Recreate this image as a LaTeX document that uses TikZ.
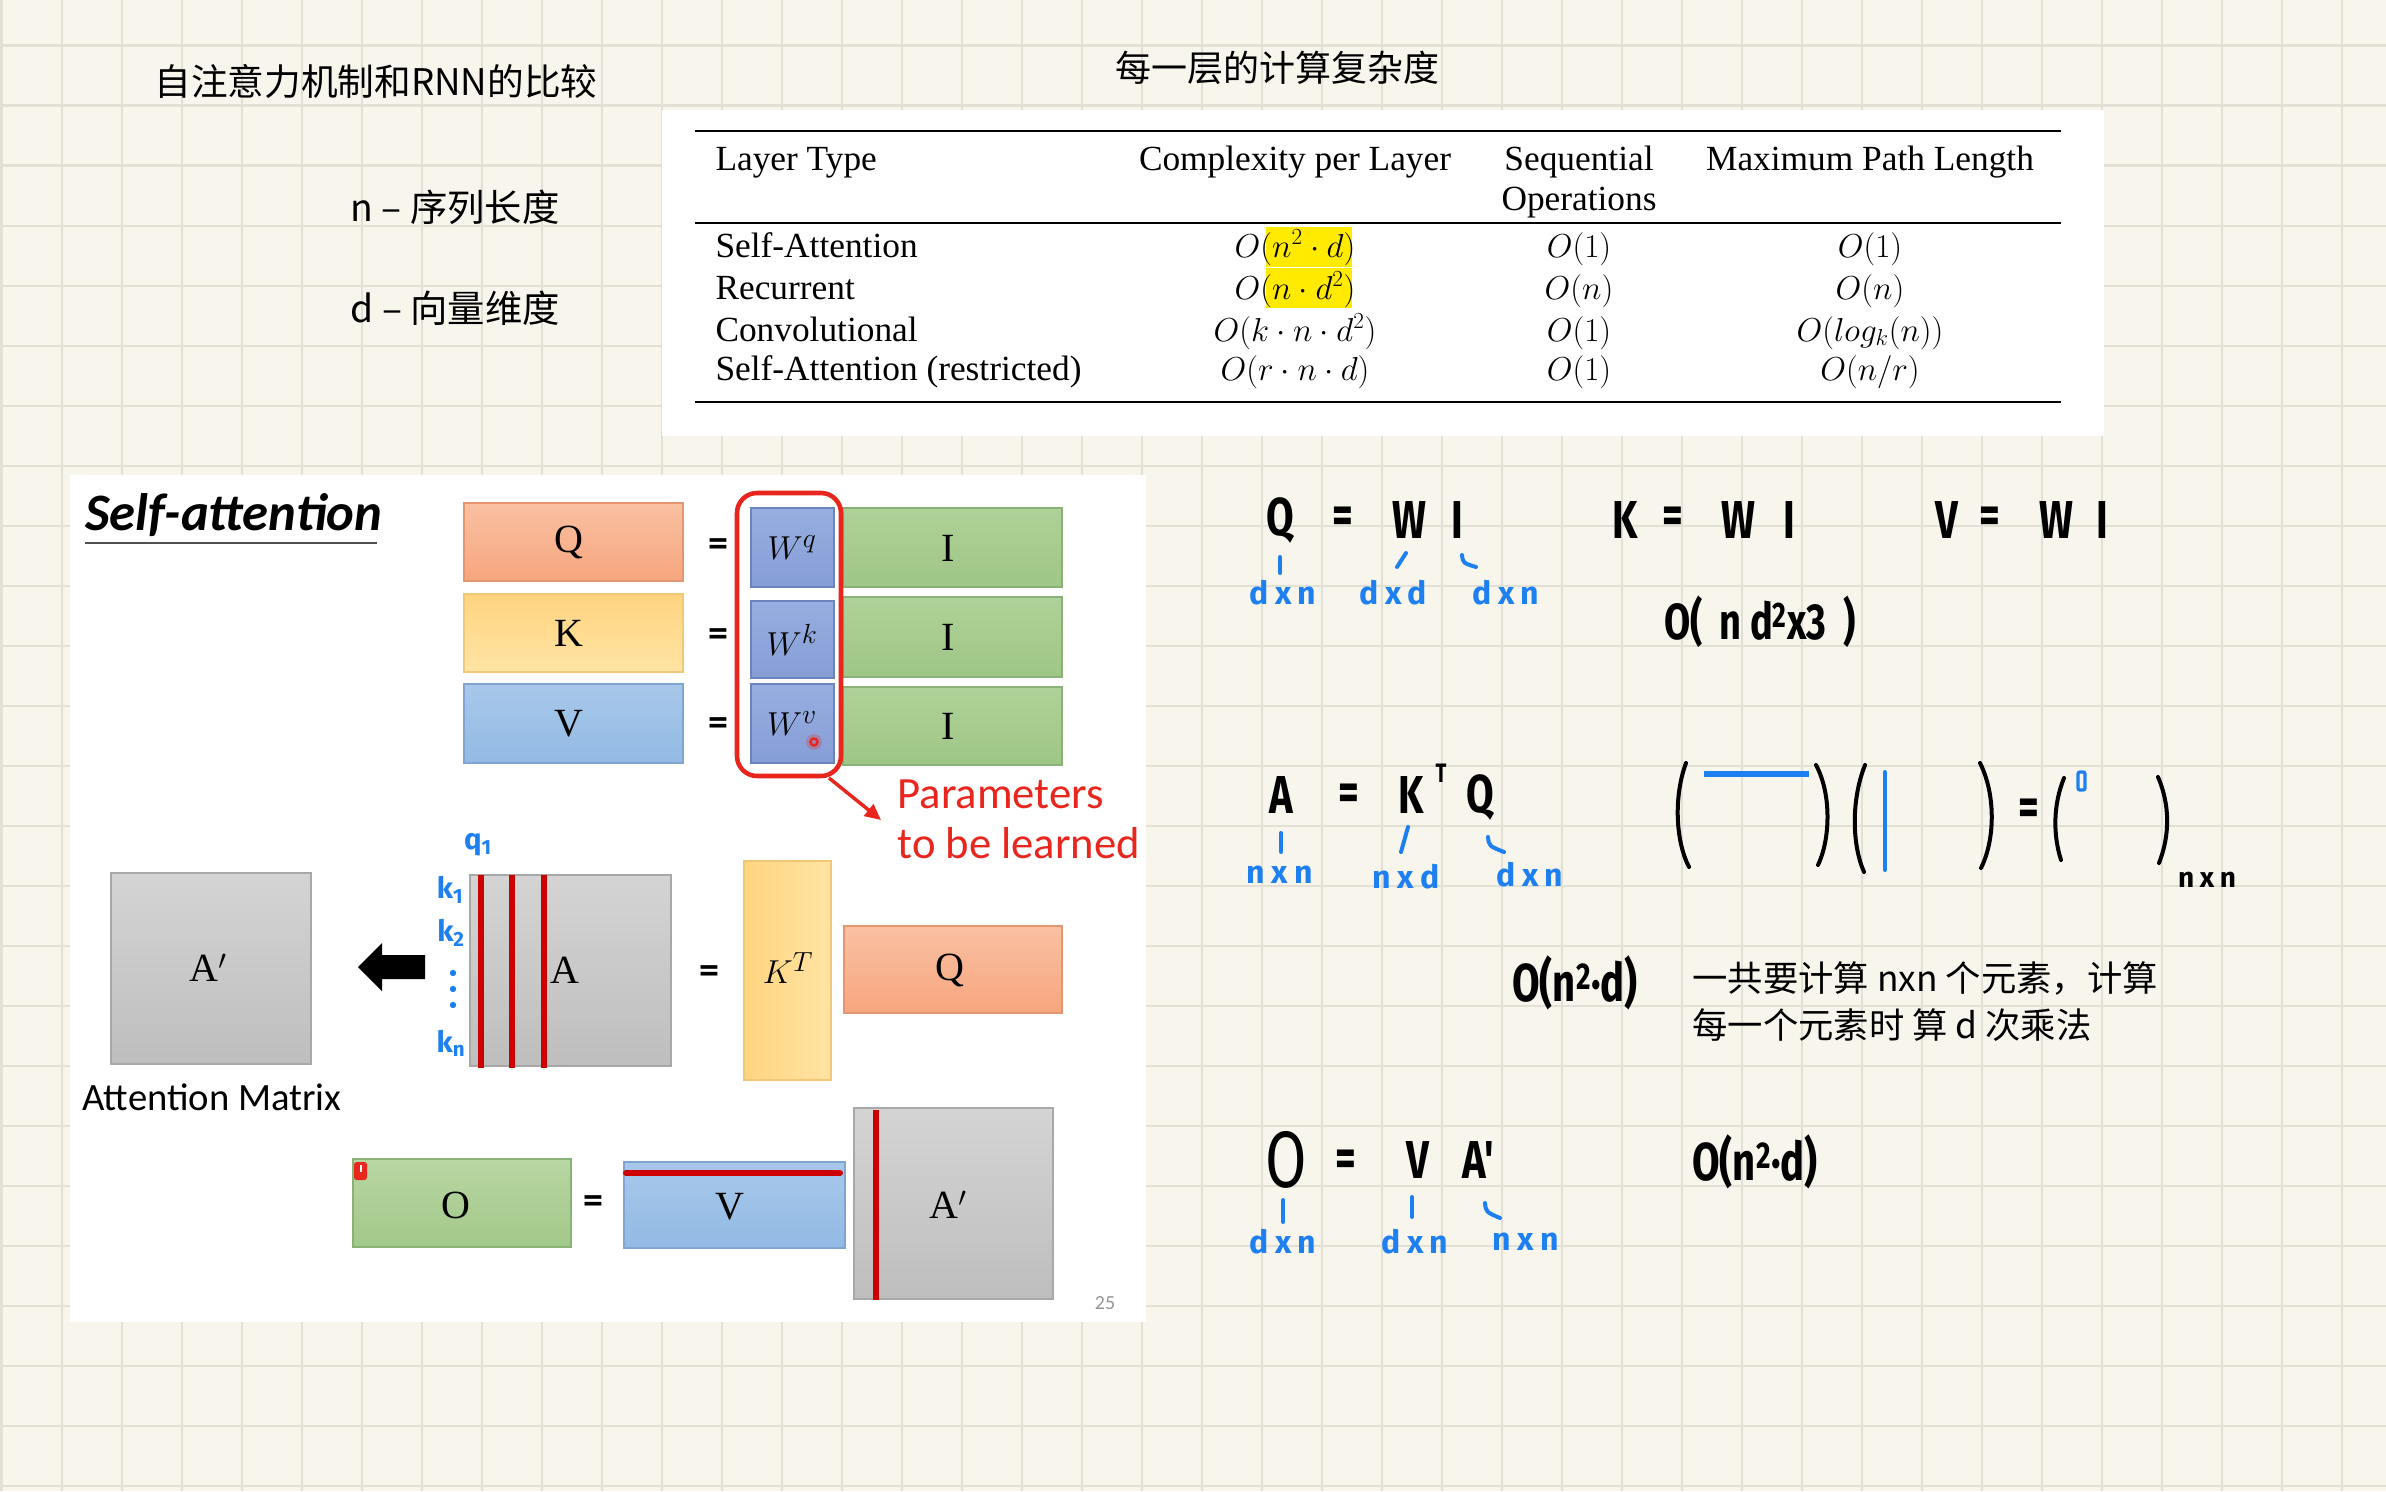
\documentclass[tikz,border=0pt]{standalone}
\usepackage{fontspec}
\setmainfont{Liberation Serif}
\newfontfamily\cjk{Noto Sans CJK SC}
\newfontfamily\slidesf{Carlito}
\newfontfamily\hand[FakeStretch=0.75]{Fira Sans}
\newfontfamily\handsm[LetterSpace=20]{Fira Sans}
\usetikzlibrary{arrows.meta}

\definecolor{paper}{RGB}{248,246,236}
\definecolor{gridcol}{RGB}{226,223,212}
\definecolor{hlyellow}{RGB}{255,234,0}
\definecolor{penblue}{RGB}{30,128,240}
\definecolor{slidered}{RGB}{204,0,0}
\definecolor{markred}{RGB}{232,38,30}
\definecolor{qtop}{RGB}{249,192,162}\definecolor{qbot}{RGB}{247,166,126}\definecolor{qline}{RGB}{228,150,112}
\definecolor{ktop}{RGB}{255,212,128}\definecolor{kbot}{RGB}{255,228,164}\definecolor{kline}{RGB}{240,200,120}
\definecolor{vtop}{RGB}{168,200,234}\definecolor{vbot}{RGB}{146,186,228}\definecolor{vline}{RGB}{128,165,210}
\definecolor{wtop}{RGB}{150,174,224}\definecolor{wbot}{RGB}{134,158,214}\definecolor{wline}{RGB}{108,132,188}
\definecolor{itop}{RGB}{174,210,152}\definecolor{ibot}{RGB}{158,198,134}\definecolor{iline}{RGB}{138,178,118}
\definecolor{gtop}{RGB}{212,212,212}\definecolor{gbot}{RGB}{190,190,190}\definecolor{gline}{RGB}{168,168,168}
\definecolor{otop}{RGB}{184,214,162}\definecolor{obot}{RGB}{162,200,138}

\tikzset{every picture/.style={line width=0.75pt},
  gridline/.style={draw=gridcol,line width=1.8pt},
  cjktxt/.style={inner sep=0pt,font=\cjk\fontsize{27}{32}\selectfont},
  tabtxt/.style={inner sep=0pt,font=\fontsize{26.5}{30}\selectfont},
  boxtxt/.style={inner sep=0pt,font=\fontsize{30}{34}\selectfont},
  slidetxt/.style={inner sep=0pt,font=\slidesf\fontsize{29}{32}\selectfont},
  eqsign/.style={inner sep=0pt,font=\slidesf\bfseries\fontsize{30}{34}\selectfont},
  qbox/.style={top color=qtop,bottom color=qbot,draw=qline,line width=1pt},
  kbox/.style={top color=ktop,bottom color=kbot,draw=kline,line width=1pt},
  vbox/.style={top color=vtop,bottom color=vbot,draw=vline,line width=1pt},
  wbox/.style={top color=wtop,bottom color=wbot,draw=wline,line width=1pt},
  ibox/.style={top color=itop,bottom color=ibot,draw=iline,line width=1pt},
  gbox/.style={top color=gtop,bottom color=gbot,draw=gline,line width=1pt},
  obox/.style={top color=otop,bottom color=obot,draw=iline,line width=1pt},
  redline/.style={draw=slidered,line width=4.5pt},
  hw/.style={inner sep=0pt,font=\hand\bfseries\fontsize{40}{40}\selectfont},
  hwlab/.style={inner sep=0pt,text=penblue,font=\handsm\bfseries\fontsize{24}{24}\selectfont},
  penstroke/.style={draw=penblue,line width=3pt,line cap=round},
  paren/.style={draw=black,line width=3pt,line cap=round}}

\begin{document}
\begin{tikzpicture}[x=0.75pt,y=0.75pt,yscale=-1,xscale=1]
\useasboundingbox (0,0) rectangle (2386,1491);

%Shape: Paper
\fill[paper] (0,0) rectangle (2386,1491);
%Shape: Grid
\foreach \k in {0,...,39} \draw[gridline] ({1.7+60*\k},0) -- ({1.7+60*\k},1491);
\foreach \k in {0,...,24} \draw[gridline] (0,{45.7+60*\k}) -- (2386,{45.7+60*\k});

% Text Node
\draw (154,81) node [anchor=west][cjktxt,font=\cjk\fontsize{27.5}{32}\selectfont] (title) {自注意力机制和RNN的比较};
% Text Node
\draw (350,207) node [anchor=west][cjktxt,font=\cjk\fontsize{28}{32}\selectfont] (lenn) {n – 序列长度};
% Text Node
\draw (350,308) node [anchor=west][cjktxt,font=\cjk\fontsize{28}{32}\selectfont] (lend) {d – 向量维度};
% Text Node
\draw (1115,68) node [anchor=west][cjktxt] (tabtitle) {每一层的计算复杂度};

%Shape: Table sheet
\fill[white] (662,110) rectangle (2104,436);
\fill[hlyellow] (1266,227) rectangle (1352,267);
\fill[hlyellow] (1266,268) rectangle (1352,308);
\draw[line width=2.2pt] (695,131) -- (2061,131);
\draw[line width=1.1pt] (695,223) -- (2061,223);
\draw[line width=2.2pt] (695,402) -- (2061,402);

% Text Node
\draw (715,171) node [anchor=base west][tabtxt] (hdlayer) {Layer Type};
\draw (1295,171) node [anchor=base][tabtxt] (hdcomp) {Complexity per Layer};
\draw (1579,171) node [anchor=base][tabtxt] (hdseq) {Sequential};
\draw (1579,210) node [anchor=base][tabtxt] (hdops) {Operations};
\draw (1870,171) node [anchor=base][tabtxt] (hdpath) {Maximum Path Length};
% Text Node
\draw (715,257) node [anchor=base west][tabtxt] (rowsa) {Self-Attention};
\draw (715,299) node [anchor=base west][tabtxt] (rowrec) {Recurrent};
\draw (715,341) node [anchor=base west][tabtxt] (rowconv) {Convolutional};
\draw (715,380) node [anchor=base west][tabtxt] (rowsar) {Self-Attention (restricted)};
% Text Node
\draw (1295,257) node [anchor=base][tabtxt] (compsa) {$O(n^2\cdot d)$};
\draw (1295,299) node [anchor=base][tabtxt] (comprec) {$O(n\cdot d^2)$};
\draw (1295,341) node [anchor=base][tabtxt] (compconv) {$O(k\cdot n\cdot d^2)$};
\draw (1295,380) node [anchor=base][tabtxt] (compsar) {$O(r\cdot n\cdot d)$};
% Text Node
\draw (1579,257) node [anchor=base][tabtxt] (seqsa) {$O(1)$};
\draw (1579,299) node [anchor=base][tabtxt] (seqrec) {$O(n)$};
\draw (1579,341) node [anchor=base][tabtxt] (seqconv) {$O(1)$};
\draw (1579,380) node [anchor=base][tabtxt] (seqsar) {$O(1)$};
% Text Node
\draw (1870,257) node [anchor=base][tabtxt] (pathsa) {$O(1)$};
\draw (1870,299) node [anchor=base][tabtxt] (pathrec) {$O(n)$};
\draw (1870,341) node [anchor=base][tabtxt] (pathconv) {$O(log_k(n))$};
\draw (1870,380) node [anchor=base][tabtxt] (pathsar) {$O(n/r)$};

%Shape: Slide sheet
\fill[white] (70,475) rectangle (1146,1322);
% Text Node
\draw (85,530) node [anchor=base west][inner sep=0pt,font=\slidesf\bfseries\itshape\fontsize{39.5}{42}\selectfont] (selfatt) {Self-attention};
\draw[draw={rgb,255:red,80;green,80;blue,80},line width=1.5pt] (85,543) -- (377,543);

%Shape: Rectangle
\draw[qbox] (464,503) rectangle (683,581);
\draw[kbox] (464,594) rectangle (683,672);
\draw[vbox] (464,684) rectangle (683,763);
\draw[wbox] (751,508) rectangle (834,587);
\draw[wbox] (751,601) rectangle (834,678);
\draw[wbox] (751,684) rectangle (834,763);
\draw[ibox] (843,508) rectangle (1062,587);
\draw[ibox] (843,597) rectangle (1062,677);
\draw[ibox] (843,687) rectangle (1062,765);
% Text Node
\draw (569,542) node [boxtxt] (qlab) {Q};
\draw (569,633) node [boxtxt] (klab) {K};
\draw (569,724) node [boxtxt] (vlab) {V};
\draw (718,548) node [eqsign] (eqa) {=};
\draw (718,638) node [eqsign] (eqb) {=};
\draw (718,727) node [eqsign] (eqc) {=};
\draw (792,548) node [boxtxt] (wq) {$W^q$};
\draw (792,640) node [boxtxt] (wk) {$W^k$};
\draw (792,724) node [boxtxt] (wv) {$W^v$};
\draw (948,548) node [boxtxt] (iq) {I};
\draw (948,637) node [boxtxt] (ik) {I};
\draw (948,726) node [boxtxt] (iv) {I};
%Shape: Pointer dot
\fill[markred,opacity=0.25] (814,742) circle (8);
\draw[markred,line width=1.8pt] (814,742) circle (3.5);

%Shape: Rounded frame
\draw[markred,line width=3.4pt,rounded corners=15pt] (737,493) rectangle (841,776);
\coordinate (wframe) at (829,778);
\coordinate (parrow) at (881,820);
\draw[markred,line width=2.6pt,-{Triangle[length=12pt,width=11pt]}] (wframe) -- (parrow);
% Text Node
\draw (897,808) node [anchor=base west][slidetxt,text=markred,font=\slidesf\fontsize{33.5}{36}\selectfont] (params) {Parameters};
\draw (897,858) node [anchor=base west][slidetxt,text=markred,font=\slidesf\fontsize{33.5}{36}\selectfont] (learned) {to be learned};

%Shape: Rectangle
\draw[gbox] (111,873) rectangle (311,1064);
\draw[gbox] (470,875) rectangle (671,1066);
\draw[kbox,left color=ktop,right color=kbot] (744,861) rectangle (831,1080);
\draw[qbox] (844,926) rectangle (1062,1013);
\draw[obox] (353,1159) rectangle (571,1247);
\draw[vbox] (624,1162) rectangle (845,1248);
\draw[gbox] (854,1108) rectangle (1053,1299);
%Shape: Block arrow
\fill[black] (358,967) -- (382,943) -- (382,955) -- (425,955) -- (425,979) -- (382,979) -- (382,991) -- cycle;
%Shape: Red marks
\draw[redline] (481,875) -- (481,1068);
\draw[redline] (512,875) -- (512,1068);
\draw[redline] (544,875) -- (544,1068);
\draw[redline,line cap=round] (626,1173) -- (840,1173);
\draw[redline] (876,1110) -- (876,1300);
\fill[markred,rounded corners=2pt] (354,1162) rectangle (367,1180);
\fill[white] (359.5,1165) rectangle (361.5,1172);

% Text Node
\draw (208,968) node [boxtxt] (aprime) {A$'$};
\draw (82,1110) node [anchor=base west][slidetxt] (attmat) {Attention Matrix};
\draw (565,970) node [boxtxt] (alab) {A};
\draw (709,975) node [eqsign] (eqd) {=};
\draw (788,968) node [boxtxt] (ktlab) {$K^T$};
\draw (950,970) node [boxtxt] (qlab2) {Q};
\draw (456,1205) node [boxtxt] (olab) {O};
\draw (593,1205) node [eqsign] (eqe) {=};
\draw (730,1207) node [boxtxt] (vlab2) {V};
\draw (948,1205) node [boxtxt] (aprime2) {A$'$};
\draw (1105,1303) node [inner sep=0pt,text={rgb,255:red,150;green,150;blue,150},font=\slidesf\fontsize{15}{16}\selectfont] (pnum) {25};
% Text Node
\draw (478,845) node [hwlab,font=\handsm\bfseries\fontsize{22}{22}\selectfont] (q1) {q\textsubscript{1}};
\draw (450,890) node [hwlab,font=\handsm\bfseries\fontsize{22}{22}\selectfont] (k1) {k\textsubscript{1}};
\draw (451,933) node [hwlab,font=\handsm\bfseries\fontsize{22}{22}\selectfont] (k2) {k\textsubscript{2}};
\fill[penblue] (453,973) circle (3.2);
\fill[penblue] (453,989) circle (3.2);
\fill[penblue] (453,1005) circle (3.2);
\draw (451,1043) node [hwlab,font=\handsm\bfseries\fontsize{22}{22}\selectfont] (kn) {k\textsubscript{n}};

% Text Node
\draw (1280,520) node [hw] (hq) {Q};
\draw (1343,520) node [hw] (heqa) {=};
\draw (1409,520) node [hw] (hwa) {W};
\draw (1457,520) node [hw] (hia) {I};
\draw (1625,520) node [hw] (hk) {K};
\draw (1673,520) node [hw] (heqb) {=};
\draw (1738,520) node [hw] (hwb) {W};
\draw (1789,520) node [hw] (hib) {I};
\draw (1947,520) node [hw] (hv) {V};
\draw (1990,520) node [hw] (heqc) {=};
\draw (2056,520) node [hw] (hwc) {W};
\draw (2102,520) node [hw] (hic) {I};
\draw[penstroke] (1280,557) -- (1280,573);
\draw[penstroke] (1406,553) -- (1397,567);
\draw[penstroke] (1462,555) .. controls (1463,563) .. (1476,567);
\draw (1283,593) node [hwlab] (dqa) {dxn};
\draw (1393,593) node [hwlab] (dqb) {dxd};
\draw (1506,593) node [hwlab] (dqc) {dxn};
\draw (1760,622) node [hw,font=\hand\bfseries\fontsize{38}{38}\selectfont] (costqkv) {O(\,\,n\,d\textsuperscript{2}x3\,\,)};

% Text Node
\draw (1281,795) node [hw] (ha) {A};
\draw (1349,797) node [hw] (heqd) {=};
\draw (1411,795) node [hw] (hkt) {K};
\draw (1441,773) node [hw,font=\hand\bfseries\fontsize{20}{20}\selectfont] (htt) {T};
\draw (1480,797) node [hw] (hqb) {Q};
\draw[penstroke] (1281,833) -- (1281,852);
\draw[penstroke] (1408,827) -- (1401,852);
\draw[penstroke] (1488,837) .. controls (1489,846) .. (1504,852);
\draw (1280,875) node [hwlab] (dab) {nxn};
\draw (1406,877) node [hwlab] (dkt) {nxd};
\draw (1530,875) node [hwlab] (dqd) {dxn};
%Shape: Handwritten matrices
\draw[paren] (1686,763) .. controls (1674,795) and (1675,840) .. (1689,867);
\draw[penstroke,line width=4.5pt,line cap=butt] (1704,774) -- (1809,774);
\draw[paren] (1816,765) .. controls (1832,795) and (1830,840) .. (1818,865);
\draw[paren] (1865,765) .. controls (1851,800) and (1852,845) .. (1864,872);
\draw[penstroke] (1885,772) -- (1885,870);
\draw[paren] (1980,763) .. controls (1996,795) and (1995,840) .. (1981,868);
\draw (2029,812) node [hw] (heqm) {=};
\draw[paren] (2064,778) .. controls (2053,805) and (2053,835) .. (2061,860);
\draw[penblue,line width=2.5pt,rounded corners=1.5pt] (2078,772) rectangle (2085,790);
\draw[paren] (2158,777) .. controls (2170,805) and (2170,835) .. (2159,863);
\draw (2207,880) node [hwlab,text=black,font=\handsm\bfseries\fontsize{21}{21}\selectfont] (hnn) {nxn};
\draw (1575,983) node [hw] (costa) {O(n\textsuperscript{2}·d)};
% Text Node
\draw (1692,978) node [anchor=west][cjktxt,font=\cjk\fontsize{26.5}{30}\selectfont] (notea) {一共要计算 nxn 个元素，计算};
\draw (1692,1025) node [anchor=west][cjktxt,font=\cjk\fontsize{26.5}{30}\selectfont] (noteb) {每一个元素时 算 d 次乘法};

% Text Node
\draw (1286,1160) node [hw,font=\hand\fontsize{60}{60}\selectfont] (ho) {O};
\draw (1346,1163) node [hw] (heqo) {=};
\draw (1418,1160) node [hw] (hvb) {V};
\draw (1478,1160) node [hw] (hap) {A'};
\draw[penstroke] (1283,1200) -- (1283,1222);
\draw[penstroke] (1412,1197) -- (1412,1217);
\draw[penstroke] (1485,1203) .. controls (1486,1212) .. (1500,1218);
\draw (1283,1242) node [hwlab] (dob) {dxn};
\draw (1415,1242) node [hwlab] (dvb) {dxn};
\draw (1526,1242) node [hwlab] (dapb) {nxn};
\draw (1755,1162) node [hw] (costo) {O(n\textsuperscript{2}·d)};

\end{tikzpicture}
\end{document}
